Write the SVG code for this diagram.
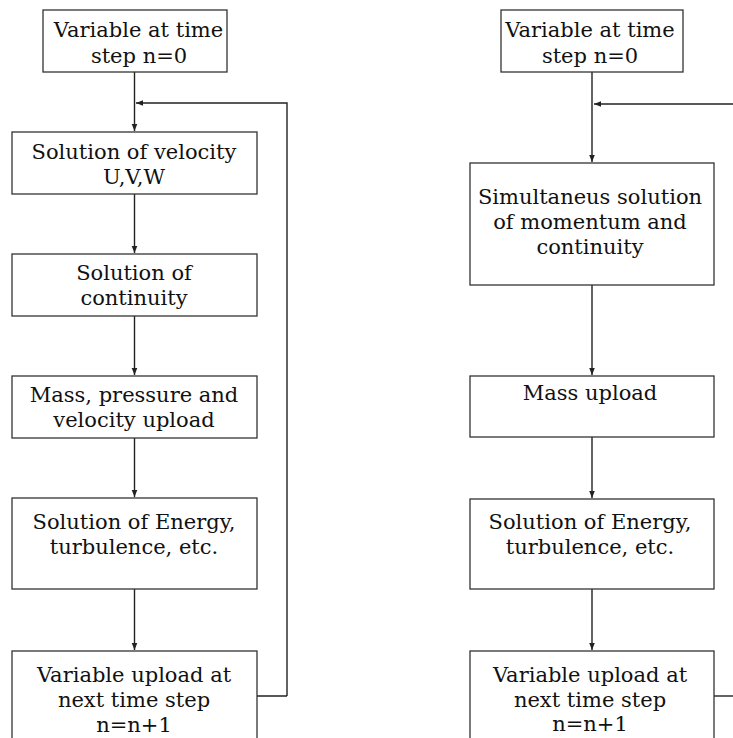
<svg xmlns="http://www.w3.org/2000/svg" width="733" height="738" viewBox="0 0 733 738">
<style>
.box{fill:#fff;stroke:#333;stroke-width:1.3}
.t{font-family:"DejaVu Serif",serif;font-size:21px;fill:#111;text-anchor:middle}
.c{fill:none;stroke:#222;stroke-width:1.4}
</style>
<defs>
<marker id="ah" viewBox="0 0 10 10" refX="10" refY="5" markerWidth="7" markerHeight="7" orient="auto" markerUnits="userSpaceOnUse">
<path d="M0,1 L10,5 L0,9 z" fill="#222"/>
</marker>
</defs>
<rect width="733" height="738" fill="#fff"/>
<g id="connectors">
<path class="c" d="M134.5,72 V131" marker-end="url(#ah)"/>
<path class="c" d="M287,696 H257 M287,696 V103 H136" marker-end="url(#ah)"/>
<path class="c" d="M134.5,194 V253" marker-end="url(#ah)"/>
<path class="c" d="M134.5,316 V375" marker-end="url(#ah)"/>
<path class="c" d="M134.5,438 V497" marker-end="url(#ah)"/>
<path class="c" d="M134.5,589 V650" marker-end="url(#ah)"/>
<path class="c" d="M592,72 V162" marker-end="url(#ah)"/>
<path class="c" d="M733,104 H594" marker-end="url(#ah)"/>
<path class="c" d="M592,285 V375" marker-end="url(#ah)"/>
<path class="c" d="M592,437 V498" marker-end="url(#ah)"/>
<path class="c" d="M592,589 V650" marker-end="url(#ah)"/>
<path class="c" d="M714,696 H733"/>
</g>
<g id="l1"><rect class="box" x="43" y="10" width="184" height="62"/>
<text class="t" x="138.5" y="37">Variable at time</text><text class="t" x="139" y="63">step n=0</text></g>
<g id="l2"><rect class="box" x="12" y="132" width="245" height="62"/>
<text class="t" x="134" y="159">Solution of velocity</text><text class="t" x="134" y="184">U,V,W</text></g>
<g id="l3"><rect class="box" x="12" y="254" width="245" height="62"/>
<text class="t" x="134" y="280">Solution of</text><text class="t" x="134" y="305">continuity</text></g>
<g id="l4"><rect class="box" x="12" y="376" width="245" height="62"/>
<text class="t" x="134" y="402">Mass, pressure and</text><text class="t" x="134" y="427">velocity upload</text></g>
<g id="l5"><rect class="box" x="12" y="498" width="245" height="91"/>
<text class="t" x="134" y="529">Solution of Energy,</text><text class="t" x="134" y="554">turbulence, etc.</text></g>
<g id="l6"><rect class="box" x="12" y="651" width="245" height="100"/>
<text class="t" x="134" y="682">Variable upload at</text><text class="t" x="134" y="707">next time step</text><text class="t" x="134" y="732">n=n+1</text></g>
<g id="r1"><rect class="box" x="501" y="10" width="182" height="62"/>
<text class="t" x="590" y="37">Variable at time</text><text class="t" x="590" y="63">step n=0</text></g>
<g id="r2"><rect class="box" x="470" y="163" width="244" height="122"/>
<text class="t" x="590" y="204">Simultaneus solution</text><text class="t" x="590" y="229">of momentum and</text><text class="t" x="590" y="254">continuity</text></g>
<g id="r3"><rect class="box" x="470" y="376" width="244" height="61"/>
<text class="t" x="590" y="400">Mass upload</text></g>
<g id="r4"><rect class="box" x="470" y="499" width="244" height="90"/>
<text class="t" x="590" y="529">Solution of Energy,</text><text class="t" x="590" y="554">turbulence, etc.</text></g>
<g id="r5"><rect class="box" x="470" y="651" width="244" height="100"/>
<text class="t" x="590" y="682">Variable upload at</text><text class="t" x="590" y="707">next time step</text><text class="t" x="590" y="731">n=n+1</text></g>
</svg>
